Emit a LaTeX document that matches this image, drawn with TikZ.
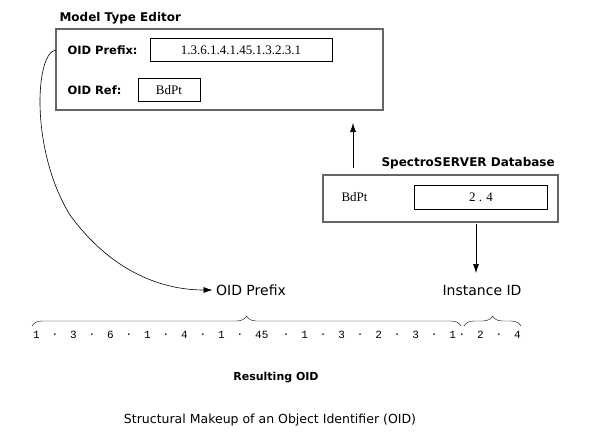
\documentclass[tikz,border=0pt]{standalone}
\usepackage{fontspec}
\setmainfont{Liberation Serif}
\setsansfont{DejaVu Sans}
\setmonofont{Liberation Mono}
\usetikzlibrary{arrows.meta, decorations.pathreplacing}

\begin{document}
\begin{tikzpicture}[
    x=1pt, y=-1pt,
    panel/.style={draw=gray!80!black, line width=2.4pt},
    field/.style={draw, thick, inner sep=0pt, font=\fontsize{13}{15}\selectfont},
    head/.style={anchor=west, font=\sffamily\bfseries\fontsize{12}{14}\selectfont},
    label/.style={anchor=west, font=\sffamily\bfseries\fontsize{11.5}{14}\selectfont},
    plain/.style={font=\sffamily\fontsize{14}{16}\selectfont},
    digit/.style={anchor=west, inner sep=0pt, font=\ttfamily\fontsize{11}{13}\selectfont},
    arrow/.style={-{Latex[length=9pt,width=6pt]}, semithick},
    brace/.style={decorate, decoration={brace, amplitude=10pt}, thin}
]
\useasboundingbox (0,0) rectangle (612,440);

% model type editor
\node[head] (mte) at (56,18) {Model Type Editor};
\draw[panel] (56,29) rectangle (383,110);
\node[label] (prefixlbl) at (64,50) {OID Prefix:};
\node[field, minimum width=182pt, minimum height=23pt] (prefix) at (241,50) {1.3.6.1.4.1.45.1.3.2.3.1};
\node[label] (reflbl) at (64,90) {OID Ref:};
\node[field, minimum width=62pt, minimum height=23pt] (ref) at (169,90) {BdPt};
\coordinate (editorbot) at (353,123);

% database
\node[head] (db) at (378,163) {SpectroSERVER Database};
\draw[panel] (323,175) rectangle (558,222);
\node[anchor=west, font=\fontsize{13}{15}\selectfont] (dbref) at (338,197) {BdPt};
\node[field, minimum width=133pt, minimum height=24pt] (dbval) at (481,197) {2 . 4};
\coordinate (dbtop) at (353,168);
\coordinate (dbbot) at (476,224);

% result
\node[plain] (prefixtxt) at (251,290) {OID Prefix};
\node[plain] (insttxt) at (482,290) {Instance ID};
\foreach \c/\t in {0/1,2/.,4/3,6/.,8/6,10/.,12/1,14/.,16/4,18/.,20/1,22/.,24/45,27/.,
    29/1,31/.,33/3,35/.,37/2,39/.,41/3,43/.,45/1,46/.,48/2,50/.,52/4}
  \node[digit] (d\c) at (33+9.25*\c,335) {\t};
\draw[brace] (32,326) -- (461,326);
\draw[brace] (464,326) -- (521,326);
\node[font=\sffamily\bfseries\fontsize{11}{13}\selectfont] (result) at (276,377) {Resulting OID};
\node[font=\sffamily\fontsize{12.5}{15}\selectfont] (caption) at (270,420) {Structural Makeup of an Object Identifier (OID)};

\draw[arrow] (dbtop) -- (editorbot);
\draw[arrow] (dbbot) -- (476,273);
\draw[arrow] (56,50) .. controls (35,52) and (30,150) .. (70,215)
  .. controls (110,270) and (160,290) .. (prefixtxt.west);
\end{tikzpicture}
\end{document}
